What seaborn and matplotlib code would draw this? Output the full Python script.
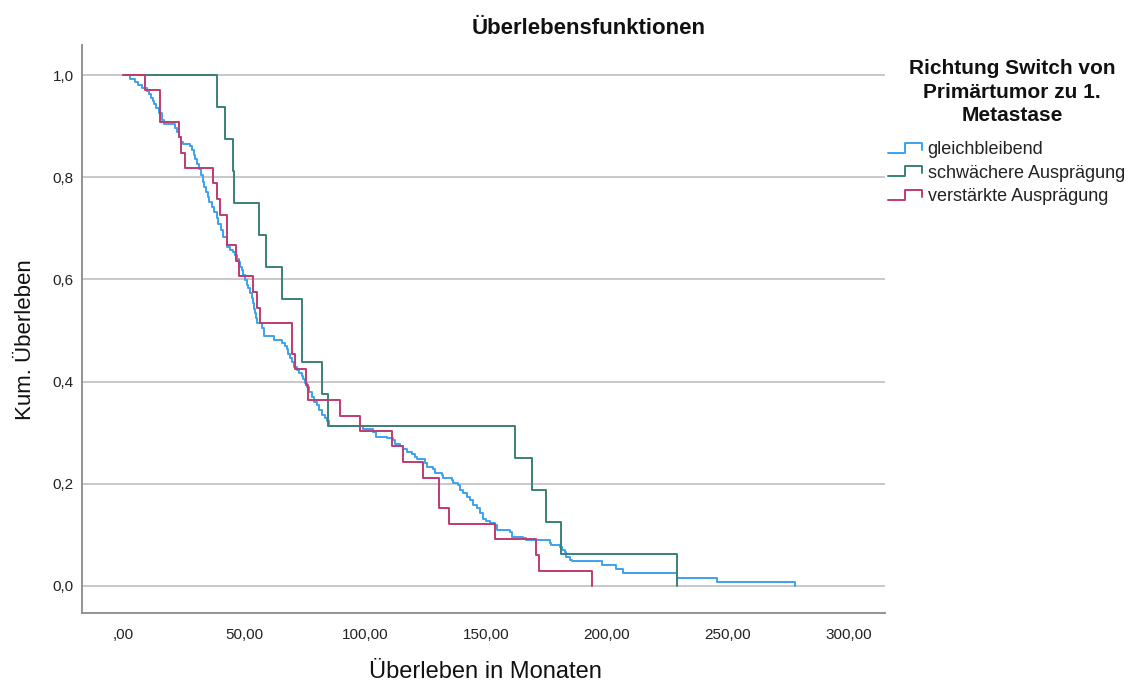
import numpy as np
import pandas as pd
import matplotlib
matplotlib.use("Agg")
import matplotlib.pyplot as plt
from matplotlib.lines import Line2D
from matplotlib.legend_handler import HandlerBase
import seaborn as sns

# ---------------- data ----------------
groups = ["gleichbleibend", "schwächere Ausprägung", "verstärkte Ausprägung"]

blue_t = [0, 2.9, 5.0, 6.3, 7.7, 9.8, 10.9, 11.6, 12.3, 12.9, 13.6, 15.0, 16.0, 16.7,
          21.3, 22.2, 23.3, 24.0, 24.9, 27.7, 28.4, 29.1, 29.8, 30.7, 31.5, 32.2, 32.9,
          33.6, 34.3, 35.0, 35.7, 36.7, 37.6, 38.7, 39.4, 40.4, 41.4, 42.8, 44.2, 45.6,
          46.3, 47.2, 48.1, 48.3, 49.0, 49.7, 50.4, 51.1, 51.8, 52.5, 53.2, 53.8, 54.1,
          54.5, 55.0, 55.5, 57.3, 58.3, 62.5, 65.5, 66.9, 67.9, 68.3, 69.0, 69.7, 70.7,
          71.8, 72.9, 73.8, 74.5, 75.2, 76.2, 77.0, 78.0, 78.9, 80.0, 81.1, 82.1, 83.5,
          84.4, 85.2, 99.0, 103.4, 104.5, 109.0, 111.4, 112.4, 114.5, 115.8, 117.2,
          119.3, 120.7, 121.4, 124.8, 125.5, 128.2, 128.9, 131.7, 132.4, 135.8, 136.5,
          138.6, 139.3, 140.6, 142.0, 143.4, 144.8, 146.2, 147.5, 148.6, 150.0, 151.7,
          153.7, 154.4, 159.9, 160.6, 165.4, 166.5, 176.4, 177.1, 180.6, 181.3, 182.6,
          183.3, 184.7, 185.4, 197.8, 203.7, 206.7, 228.8, 245.6, 277.7]
blue_s = [1.0, 0.993, 0.987, 0.980, 0.974, 0.969, 0.963, 0.956, 0.950, 0.943, 0.935, 0.926,
          0.912, 0.905, 0.897, 0.889, 0.879, 0.870, 0.865, 0.861, 0.853, 0.843, 0.835,
          0.826, 0.817, 0.804, 0.791, 0.781, 0.772, 0.762, 0.752, 0.742, 0.733, 0.720,
          0.708, 0.697, 0.684, 0.664, 0.658, 0.654, 0.648, 0.641, 0.635, 0.625, 0.618,
          0.609, 0.599, 0.589, 0.583, 0.573, 0.563, 0.553, 0.543, 0.534, 0.524, 0.514,
          0.505, 0.489, 0.481, 0.476, 0.470, 0.463, 0.455, 0.447, 0.439, 0.429, 0.423,
          0.416, 0.411, 0.405, 0.397, 0.390, 0.380, 0.370, 0.361, 0.354, 0.344, 0.335,
          0.328, 0.322, 0.313, 0.307, 0.301, 0.292, 0.289, 0.285, 0.278, 0.274, 0.269,
          0.263, 0.259, 0.253, 0.248, 0.240, 0.233, 0.229, 0.221, 0.217, 0.211, 0.207,
          0.201, 0.197, 0.188, 0.181, 0.175, 0.168, 0.159, 0.152, 0.142, 0.132, 0.128,
          0.123, 0.119, 0.110, 0.106, 0.096, 0.093, 0.089, 0.085, 0.080, 0.077, 0.070,
          0.066, 0.057, 0.051, 0.049, 0.040, 0.033, 0.0245, 0.0164, 0.0082, 0.0]

green_t = [0, 38.7, 42.1, 45.3, 45.9, 56.2, 59.1, 65.6, 73.8, 82.1, 84.8, 162.0, 168.9,
           174.7, 181.0, 228.9]
green_s = [1.0, 0.9375, 0.875, 0.8125, 0.75, 0.6875, 0.625, 0.5625, 0.4375, 0.375, 0.3125,
           0.25, 0.1875, 0.125, 0.0625, 0.0]

red_t = [0, 9.1, 15.1, 22.9, 23.8, 25.6, 37.0, 38.8, 40.1, 42.9, 46.7, 47.9, 53.8, 55.5,
         56.8, 69.7, 71.1, 75.6, 76.6, 89.7, 97.9, 111.0, 115.8, 124.1, 130.7, 134.7,
         153.7, 170.7, 171.9, 193.8]
red_s = [1.0, 0.970, 0.909, 0.879, 0.848, 0.818, 0.788, 0.758, 0.727, 0.667, 0.636, 0.606,
         0.576, 0.545, 0.515, 0.455, 0.424, 0.394, 0.364, 0.333, 0.303, 0.273, 0.242,
         0.212, 0.152, 0.121, 0.091, 0.061, 0.030, 0.0]

x_ticks = [0, 50, 100, 150, 200, 250, 300]
x_ticklabels = [",00", "50,00", "100,00", "150,00", "200,00", "250,00", "300,00"]
y_ticks = [0.0, 0.2, 0.4, 0.6, 0.8, 1.0]
y_ticklabels = ["0,0", "0,2", "0,4", "0,6", "0,8", "1,0"]

title = "Überlebensfunktionen"
x_label = "Überleben in Monaten"
y_label = "Kum. Überleben"
legend_title = "Richtung Switch von\nPrimärtumor zu 1.\nMetastase"

colors = {"gleichbleibend": "#3DA2EE",
          "schwächere Ausprägung": "#3A8078",
          "verstärkte Ausprägung": "#C03A70"}

# ---------------- build table ----------------
frames = []
for g, t, s in zip(groups, [blue_t, green_t, red_t], [blue_s, green_s, red_s]):
    frames.append(pd.DataFrame({"t": t, "s": s, "group": g}))
df = pd.concat(frames, ignore_index=True)

# ---------------- style ----------------
sns.set_theme(style="white")
plt.rcParams["font.family"] = ["Liberation Sans", "DejaVu Sans"]

fig = plt.figure(figsize=(11.34, 6.84), dpi=100)
W, H = 1134, 684
ax = fig.add_axes([82 / W, 1 - 613 / H, (885 - 82) / W, (613 - 45) / H])

for g in groups:
    sns.lineplot(data=df[df["group"] == g], x="t", y="s", color=colors[g],
                 drawstyle="steps-post", estimator=None, sort=False,
                 linewidth=1.4, ax=ax, legend=False, zorder=3)

ax.set_xlim(-17, 315)
ax.set_ylim(-0.053, 1.059)
ax.set_xticks(x_ticks)
ax.set_xticklabels(x_ticklabels)
ax.set_yticks(y_ticks)
ax.set_yticklabels(y_ticklabels)
ax.tick_params(axis="both", length=0, labelsize=11, colors="#222222")
ax.tick_params(axis="x", pad=11)
ax.tick_params(axis="y", pad=6)
ax.yaxis.grid(True, color="#c4c4c4", linewidth=1.3)
ax.xaxis.grid(False)
ax.set_axisbelow(True)
for side in ["top", "right"]:
    ax.spines[side].set_visible(False)
for side in ["left", "bottom"]:
    ax.spines[side].set_color("#8a8a8a")
    ax.spines[side].set_linewidth(1.3)
ax.set_xlabel("")
ax.set_ylabel("")

fig.text(589 / W, 1 - 28 / H, title, ha="center", va="center",
         fontsize=16, fontweight="bold", color="#111111")
fig.text(485 / W, 1 - 672 / H, x_label, ha="center", va="center",
         fontsize=17, color="#111111")
fig.text(26 / W, 1 - 340 / H, y_label, ha="center", va="center",
         rotation=90, fontsize=16, color="#111111")

# legend title
fig.text(1012 / W, 1 - 92 / H, legend_title, ha="center", va="center",
         fontsize=15, fontweight="bold", color="#111111", multialignment="center",
         linespacing=1.3)


class StepHandler(HandlerBase):
    def create_artists(self, legend, orig_handle, xdescent, ydescent, width,
                       height, fontsize, trans):
        x0, y0 = -xdescent, -ydescent
        xs = [x0, x0 + 0.5 * width, x0 + 0.5 * width, x0 + width, x0 + width]
        ys = [y0 + 0.1 * height, y0 + 0.1 * height, y0 + 0.9 * height,
              y0 + 0.9 * height, y0 + 0.35 * height]
        ln = Line2D(xs, ys, color=orig_handle.get_color(), linewidth=1.4)
        ln.set_transform(trans)
        return [ln]


handles = [Line2D([], [], color=colors[g]) for g in groups]
fig.legend(handles, groups, loc="upper left",
           bbox_to_anchor=(888 / W, 1 - 141 / H), frameon=False,
           handler_map={Line2D: StepHandler()}, fontsize=13,
           handlelength=1.9, handletextpad=0.3, labelspacing=0.36,
           borderpad=0, borderaxespad=0, labelcolor="#222222")

fig.savefig("out.png", dpi=100)
